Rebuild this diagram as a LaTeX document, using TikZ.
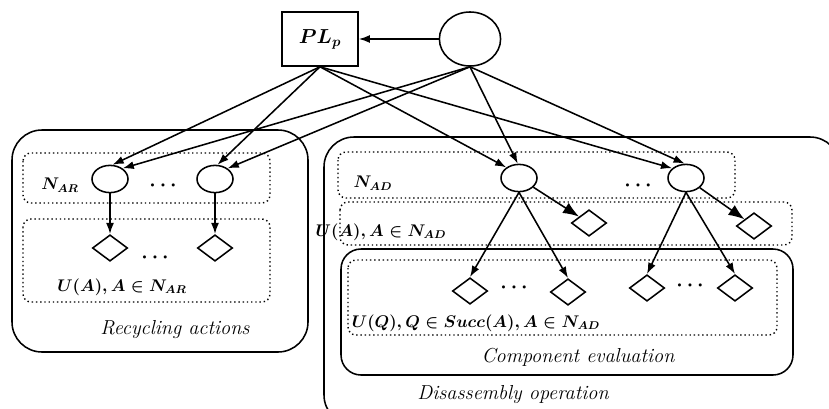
\documentclass[tikz,border=0pt]{standalone}
\usepackage{amsmath}
\usepackage{amssymb}
\usepackage{tikz}
\usetikzlibrary{shapes.geometric}
\usetikzlibrary{arrows.meta}

\begin{document}
\begin{tikzpicture}[x=0.025cm,y=-0.025cm,
  evt/.style={draw,line width=1.1pt,ellipse,minimum width=0.9cm,minimum height=0.68cm,inner sep=0},
  util/.style={draw,line width=1.1pt,diamond,minimum width=0.88cm,minimum height=0.66cm,inner sep=0},
  grp/.style={draw,dotted,line width=1pt,rounded corners=0.2cm},
  frame/.style={draw,line width=1.1pt,rounded corners=0.75cm},
  arr/.style={line width=1.1pt,-{Latex[length=0.28cm,width=0.2cm]}},
  bigarr/.style={line width=1.1pt,-{Latex[length=0.4cm,width=0.3cm]}},
  mlab/.style={font=\large\boldmath,inner sep=1pt},
  dots/.style={font=\Large\boldmath},
  lab/.style={font=\Large\itshape}]
\useasboundingbox (0,0) rectangle (829,408);

  %%%%%%% TOP
  \node[draw,line width=1.1pt,minimum width=1.9cm,minimum height=1.35cm,font=\Large\boldmath] (pl) at (320,39) {$PL_p$};
  \node[draw,line width=1.1pt,ellipse,minimum width=1.53cm,minimum height=1.35cm] (top) at (470,39) {};
  \draw[arr] (top) -- (pl);

  %%%%%%% RECYCLING
  \draw[frame] (12,130) rectangle (308,352);
  \draw[grp] (23,153) rectangle (270,203);
  \draw[grp] (23,219) rectangle (270,302);
  \node[evt] (r1) at (110,179) {};
  \node[evt] (r2) at (215,179) {};
  \node[util] (ur1) at (110,248) {};
  \node[util] (ur2) at (215,248) {};
  \node[mlab] (nar) at (60,185) {$N_{AR}$};
  \node[dots] (dr1) at (165,186) {$\cdots$};
  \node[dots] (dr2) at (157,258) {$\cdots$};
  \node[mlab] (uar) at (122,287) {$U(A), A \in N_{AR}$};
  \node[lab] (rec) at (175,330) {Recycling actions};
  \draw[arr] (r1) -- (ur1);
  \draw[arr] (r2) -- (ur2);

  %%%%%%% DISASSEMBLY
  \draw[frame] (324,137) rectangle (840,425);
  \draw[grp] (338,152) rectangle (735,198);
  \draw[grp] (340,202) rectangle (792,245);
  \draw[frame,rounded corners=0.5cm] (341,249) rectangle (793,375);
  \draw[grp] (348,260) rectangle (777,335);
  \node[evt] (d1) at (519,178) {};
  \node[evt] (d2) at (686,178) {};
  \node[util] (ua1) at (589,223) {};
  \node[util] (ua2) at (754,226) {};
  \node[util] (uq1) at (470,291) {};
  \node[util] (uq2) at (568,292) {};
  \node[util] (uq3) at (647,288) {};
  \node[util] (uq4) at (735,288) {};
  \node[mlab] (nad) at (373,183) {$N_{AD}$};
  \node[dots] (dd1) at (640,186) {$\cdots$};
  \node[dots] (dq1) at (516,288) {$\cdots$};
  \node[dots] (dq2) at (692,286) {$\cdots$};
  \node[mlab] (uad) at (381,232) {$U(A), A \in N_{AD}$};
  \node[mlab] (uqd) at (476,323) {$U(Q), Q \in Succ(A), A \in N_{AD}$};
  \node[lab] (comp) at (578,357) {Component evaluation};
  \node[lab] (dis) at (513,395) {Disassembly operation};
  \draw[bigarr] (d1) -- (ua1);
  \draw[bigarr] (d2) -- (ua2);
  \draw[arr] (d1.south) -- (uq1.north);
  \draw[arr] (d1.south) -- (uq2.north);
  \draw[arr] (d2.south) -- (uq3.north);
  \draw[arr] (d2.south) -- (uq4.north);

  %%%%%%% FROM TOP
  \draw[arr] (pl.south) -- (r1.80);
  \draw[arr] (pl.south) -- (r2.80);
  \draw[arr] (pl.south) -- (d1.140);
  \draw[arr] (pl.south) -- (d2.145);
  \draw[arr] (top.south) -- (r1.40);
  \draw[arr] (top.south) -- (r2.40);
  \draw[arr] (top.south) -- (d1.95);
  \draw[arr] (top.south) -- (d2.95);
\end{tikzpicture}
\end{document}
